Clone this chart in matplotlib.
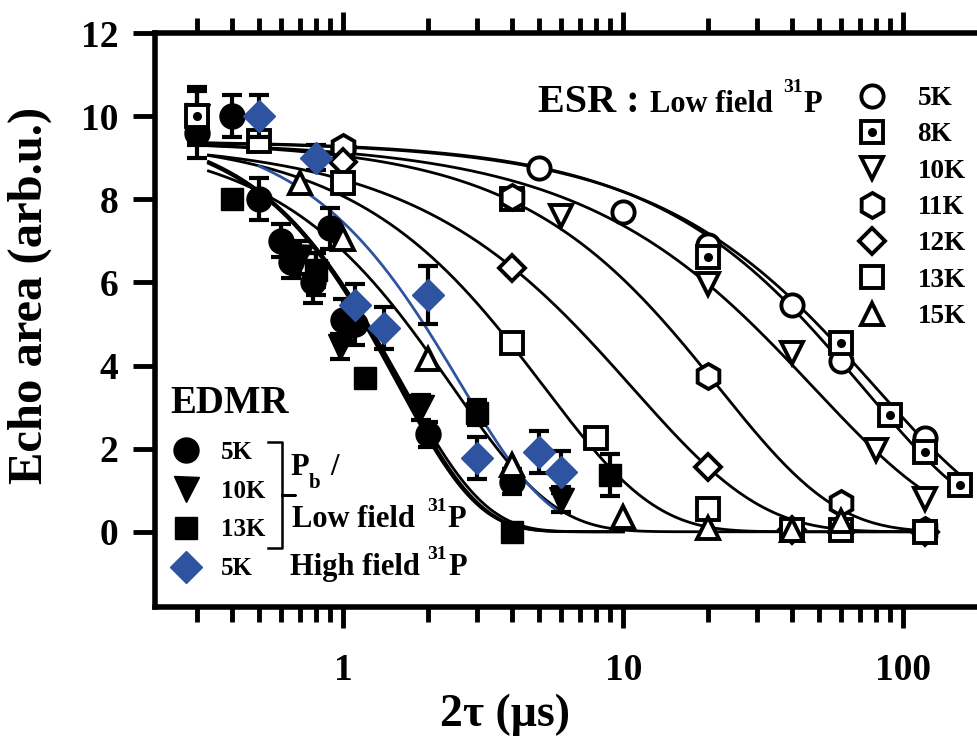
import numpy as np
import matplotlib
matplotlib.use("Agg")
import matplotlib.pyplot as plt
from matplotlib.lines import Line2D
from matplotlib.ticker import FixedLocator, NullFormatter

# ESR data (open markers)
esr_5K_x = [1, 5, 10, 20, 40, 60, 120]
esr_5K_y = [9.2, 8.75, 7.7, 6.9, 5.46, 4.1, 2.25]
esr_8K_x = [0.3, 4, 20, 60, 90, 120, 160]
esr_8K_y = [10.0, 8.0, 6.6, 4.55, 2.8, 1.92, 1.13]
esr_10K_x = [1, 6, 20, 40, 80, 120]
esr_10K_y = [9.0, 7.6, 5.95, 4.3, 1.97, 0.8]
esr_11K_x = [1, 4, 20, 60, 120]
esr_11K_y = [9.25, 8.05, 3.75, 0.7, 0.05]
esr_12K_x = [1, 4, 20, 40, 120]
esr_12K_y = [8.9, 6.35, 1.55, 0.05, 0.0]
esr_13K_x = [0.5, 1, 4, 8, 20, 40, 60, 120]
esr_13K_y = [9.4, 8.4, 4.55, 2.26, 0.55, 0.05, 0.05, 0.0]
esr_15K_x = [0.7, 1, 2, 4, 10, 20, 40, 60]
esr_15K_y = [8.4, 7.05, 4.15, 1.6, 0.35, 0.1, 0.05, 0.25]

# fit parameters  y = A exp(-(x/T)^n)
esr_fit_A = [9.4, 9.4, 9.4, 9.4, 9.4, 9.5, 9.5]
esr_fit_T = [80, 72, 48, 22, 10.8, 5.2, 2.45]
esr_fit_n = [0.95, 1.0, 0.9, 1.05, 0.95, 1.1, 1.2]
esr_fit_xmax = [170, 170, 125, 125, 125, 125, 125]

# EDMR data (filled markers, error bars)
edmr_5K_x = [0.3, 0.4, 0.5, 0.6, 0.65, 0.78, 0.9, 1.0, 1.1, 2.0, 4.0]
edmr_5K_y = [9.6, 10.0, 8.0, 7.0, 6.5, 6.0, 7.3, 5.1, 5.0, 2.35, 1.2]
edmr_5K_err = [0.6, 0.5, 0.5, 0.4, 0.4, 0.5, 0.5, 0.5, 0.5, 0.3, 0.3]
edmr_10K_x = [0.3, 0.7, 0.8, 0.97, 1.9, 6.0]
edmr_10K_y = [10.0, 6.6, 6.2, 4.45, 3.0, 0.77]
edmr_10K_err = [0.7, 0.4, 0.5, 0.3, 0.3, 0.3]
edmr_13K_x = [0.3, 0.4, 0.8, 1.2, 3.0, 4.0, 9.0]
edmr_13K_y = [10.0, 8.0, 6.3, 3.7, 2.86, 0.0, 1.37]
edmr_13K_err = [0.6, 0.0, 0.4, 0.0, 0.3, 0.0, 0.5]
hf_5K_x = [0.5, 0.8, 1.1, 1.4, 2.0, 3.0, 5.0, 6.0]
hf_5K_y = [10.0, 9.0, 5.45, 4.9, 5.7, 1.78, 1.92, 1.44]
hf_5K_err = [0.5, 0.3, 0.5, 0.5, 0.7, 0.5, 0.5, 0.5]

edmr_fit_A = [9.8, 9.8, 9.8, 9.8]
edmr_fit_T = [1.58, 1.55, 1.61, 2.6]
edmr_fit_n = [1.5, 1.5, 1.45, 1.35]
edmr_fit_range = [(0.33, 10), (0.33, 10), (0.33, 10), (0.5, 6)]

blue = "#2E53A1"
W, H = 977, 743

plt.rcParams["font.family"] = ["Liberation Serif", "DejaVu Serif"]
plt.rcParams["font.weight"] = "bold"

fig = plt.figure(figsize=(W / 100, H / 100), dpi=100)
ax = fig.add_axes([154.5 / W, 1 - 607 / H, (985 - 154.5) / W, (607 - 33) / H])
ax.set_xscale("log")
ax.set_xlim(0.2117, 195.8)
ax.set_ylim(-1.81, 12)


def fit_curve(A, T, n, x0, x1, **kw):
    xx = np.logspace(np.log10(x0), np.log10(x1), 300)
    ax.plot(xx, A * np.exp(-(xx / T) ** n), **kw)


# fit curves
for A, T, n, xm in zip(esr_fit_A, esr_fit_T, esr_fit_n, esr_fit_xmax):
    fit_curve(A, T, n, 0.33, xm, color="black", lw=2, zorder=2)
for i, (A, T, n, rng) in enumerate(zip(edmr_fit_A, edmr_fit_T, edmr_fit_n, edmr_fit_range)):
    fit_curve(A, T, n, rng[0], rng[1], color=blue if i == 3 else "black", lw=2, zorder=2)

# EDMR markers
eb = dict(ls="none", ecolor="black", elinewidth=3, capsize=7, capthick=3)
ax.errorbar(edmr_5K_x, edmr_5K_y, yerr=edmr_5K_err, marker="o", ms=18, color="black", zorder=3, **eb)
ax.errorbar(edmr_10K_x, edmr_10K_y, yerr=edmr_10K_err, marker="v", ms=18, color="black", zorder=3, **eb)
ax.errorbar(edmr_13K_x, edmr_13K_y, yerr=edmr_13K_err, marker="s", ms=16, color="black", zorder=3, **eb)

# ESR markers
op = dict(ls="none", mfc="white", mec="black", mew=2.8, zorder=4)
h5 = ax.plot(esr_5K_x, esr_5K_y, marker="o", ms=16, **op)[0]
h8 = ax.plot(esr_8K_x, esr_8K_y, marker="s", ms=16, **op)[0]
h8d = ax.plot(esr_8K_x, esr_8K_y, marker="o", ms=5.5, ls="none", color="black", zorder=4)[0]
h10 = ax.plot(esr_10K_x, esr_10K_y, marker="v", ms=16, **op)[0]
h11 = ax.plot(esr_11K_x, esr_11K_y, marker="h", ms=18, **op)[0]
h12 = ax.plot(esr_12K_x, esr_12K_y, marker="D", ms=13.5, **op)[0]
h13 = ax.plot(esr_13K_x, esr_13K_y, marker="s", ms=16, **op)[0]
h15 = ax.plot(esr_15K_x, esr_15K_y, marker="^", ms=16, **op)[0]

# high field EDMR on top
ax.errorbar(hf_5K_x, hf_5K_y, yerr=hf_5K_err, marker="D", ms=16.5, mfc=blue, mec=blue, zorder=5, **eb)

# axes styling
for s in ax.spines.values():
    s.set_linewidth(4)
ax.set_yticks(range(0, 13, 2))
ax.set_xticks([1, 10, 100], ["1", "10", "100"])
minor = [m * 10.0 ** d for d in (-1, 0, 1, 2) for m in range(2, 10)]
ax.xaxis.set_minor_locator(FixedLocator(minor))
ax.xaxis.set_minor_formatter(NullFormatter())
ax.tick_params(axis="x", which="both", top=True, direction="out", width=3.5, labelsize=27, pad=18)
ax.tick_params(axis="x", which="major", length=15)
ax.tick_params(axis="x", which="minor", length=11)
ax.tick_params(axis="y", which="both", right=False, direction="out", width=3.5, length=16, labelsize=27, pad=10)
for lab in ax.get_xticklabels() + ax.get_yticklabels():
    lab.set_fontweight("bold")


def ftext(px, py, s, size, **kw):
    fig.text(px / W, 1 - py / H, s, fontsize=size, fontweight="bold", va="baseline", **kw)


fig.text(30 / W, 1 - 295 / H, "Echo area (arb.u.)", rotation=90, ha="center", va="center",
         fontsize=35, fontweight="bold")
fig.text(505 / W, 1 - 715 / H, "2τ (μs)", ha="center", va="center", fontsize=33, fontweight="bold")

# ESR header
ftext(538, 112, "ESR :", 29)
ftext(650, 112, "Low field", 22)
ftext(783, 92, "31", 14)
ftext(803, 112, "P", 22)

# ESR legend
esr_handles = [h5, (h8, h8d), h10, h11, h12, h13, h15]
esr_labels = ["5K", "8K", "10K", "11K", "12K", "13K", "15K"]
leg1 = ax.legend(esr_handles, esr_labels, loc="upper left", bbox_to_anchor=(858 / W, 1 - 86 / H),
                 bbox_transform=fig.transFigure, frameon=False, borderpad=0, borderaxespad=0,
                 handlelength=1.0, handletextpad=1.2, labelspacing=0.42, numpoints=1,
                 prop={"size": 19.5, "weight": "bold"})
ax.add_artist(leg1)

# EDMR legend
ftext(170, 413, "EDMR", 28)
edmr_handles = [
    Line2D([], [], ls="none", marker="o", ms=18, color="black"),
    Line2D([], [], ls="none", marker="v", ms=18, color="black"),
    Line2D([], [], ls="none", marker="s", ms=16, color="black"),
    Line2D([], [], ls="none", marker="D", ms=16.5, color=blue),
]
leg2 = ax.legend(edmr_handles, ["5K", "10K", "13K", "5K"], loc="upper left",
                 bbox_to_anchor=(175 / W, 1 - 441 / H), bbox_transform=fig.transFigure,
                 frameon=False, borderpad=0, borderaxespad=0, handlelength=0.9,
                 handletextpad=0.95, labelspacing=0.63, numpoints=1,
                 prop={"size": 18, "weight": "bold"})

# bracket
bx = [268, 282, 282, 295, 282, 282, 268]
by = [442, 442, 495, 495, 495, 548, 548]
fig.add_artist(Line2D([x / W for x in bx], [1 - y / H for y in by], color="black", lw=1.8,
                      transform=fig.transFigure))
ftext(290, 475, "P", 22)
ftext(309, 488, "b", 15)
ftext(330, 475, "/", 22)
ftext(292, 527, "Low field", 22)
ftext(427, 511, "31", 14)
ftext(447, 527, "P", 22)
ftext(290, 575, "High field", 22)
ftext(427, 559, "31", 14)
ftext(448, 575, "P", 22)

fig.savefig("out.png", dpi=100)
